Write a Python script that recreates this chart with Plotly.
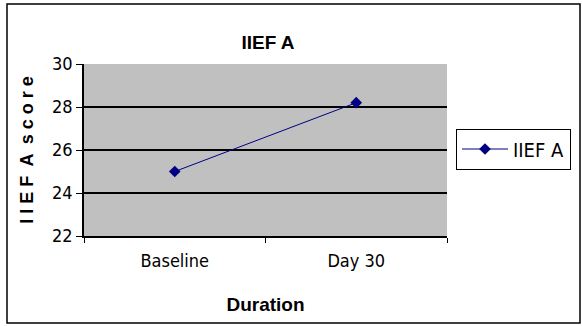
import plotly.graph_objects as go

# Data
categories = ["Baseline", "Day 30"]
iief_a_scores = [25.0, 28.2]
y_ticks = [22, 24, 26, 28, 30]

NAVY = "#000080"
NARROW = "DejaVu Sans Condensed, Liberation Sans Narrow, Arial Narrow, sans-serif"
BOLD = "Liberation Sans, Arial, sans-serif"

fig = go.Figure()
fig.add_trace(go.Scatter(
    x=categories,
    y=iief_a_scores,
    mode="lines+markers",
    name="IIEF A",
    line=dict(color=NAVY, width=1),
    marker=dict(symbol="diamond", size=9, color=NAVY),
))

fig.update_layout(
    width=582,
    height=326,
    margin=dict(l=84, r=135, t=64, b=90, autoexpand=False),
    paper_bgcolor="white",
    plot_bgcolor="#c0c0c0",
    title=dict(
        text="<b>IIEF A</b>",
        x=(268 / 582), xanchor="center",
        y=1 - 42 / 326, yanchor="middle",
        font=dict(family=BOLD, size=19, color="black"),
    ),
    xaxis=dict(
        type="category",
        range=[-0.5, 1.5],
        tickson="boundaries",
        ticks="outside",
        ticklen=5,
        tickcolor="black",
        ticklabelstandoff=8,
        showline=True,
        linecolor="black",
        linewidth=1.5,
        showgrid=False,
        tickfont=dict(family=NARROW, size=18, color="black"),
        title=dict(text="<b>Duration</b>", font=dict(family=BOLD, size=19, color="black"), standoff=27),
    ),
    yaxis=dict(
        range=[22, 30],
        tickvals=y_ticks,
        ticks="outside",
        ticklen=6,
        tickcolor="black",
        showline=True,
        linecolor="black",
        linewidth=1.5,
        showgrid=True,
        gridcolor="black",
        gridwidth=1.5,
        zeroline=False,
        tickfont=dict(family=NARROW, size=18, color="black"),
        title=dict(text="<b>I I E F  A  s c o r e</b>", font=dict(family=BOLD, size=18, color="black"), standoff=14),
    ),
    showlegend=True,
    legend=dict(
        x=(456 - 84) / 363, xanchor="left",
        y=(236 - 149) / 172, yanchor="middle",
        bordercolor="black",
        borderwidth=1,
        bgcolor="white",
        font=dict(family=NARROW, size=20, color="black"),
        itemwidth=46,
    ),
)

# Outer chart border
fig.add_shape(
    type="rect", xref="paper", yref="paper",
    x0=-(84 - 7) / 363, x1=1 + (580 - 447) / 363,
    y0=-(323 - 236) / 172, y1=1 + (64 - 4) / 172,
    line=dict(color="black", width=1.5),
    fillcolor="rgba(0,0,0,0)",
    layer="below",
)

fig.write_html("out.html")
